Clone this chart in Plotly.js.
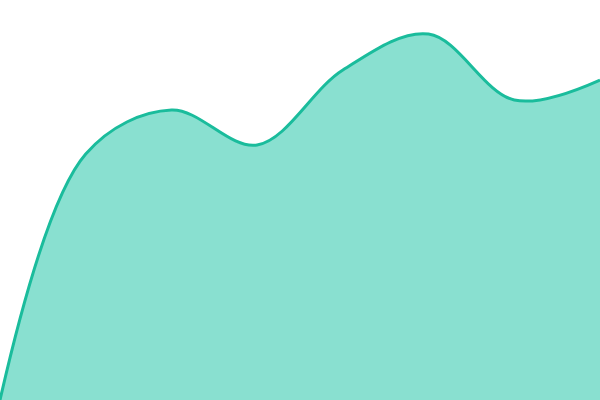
<!DOCTYPE html>
<html>
<head>
<meta charset="utf-8">
<script src="https://cdn.plot.ly/plotly-3.0.1.min.js"></script>
<style>
  html, body { margin: 0; padding: 0; background: #fff; }
  #chart { width: 600px; height: 400px; }
</style>
</head>
<body>
<div id="chart"></div>
<script>
// Smooth area, no axes
const xs = [0, 1, 2, 3, 4, 5, 6, 7];
const values = [0, 246, 290, 255, 330, 366, 300, 320];

const trace = {
  type: "scatter", mode: "lines",
  x: xs, y: values,
  fill: "tozeroy",
  fillcolor: "#89e0d0",
  line: { color: "#1abc9c", width: 3, shape: "spline", smoothing: 1 },
  hoverinfo: "skip",
};

const layout = {
  width: 600, height: 400,
  margin: { l: 0, r: 0, t: 0, b: 0 },
  paper_bgcolor: "#fff", plot_bgcolor: "#fff",
  showlegend: false,
  xaxis: { range: [0, 7], visible: false, fixedrange: true },
  yaxis: { range: [0, 400], visible: false, fixedrange: true },
};

Plotly.newPlot("chart", [trace], layout, { staticPlot: true, displayModeBar: false });
</script>
</body>
</html>
